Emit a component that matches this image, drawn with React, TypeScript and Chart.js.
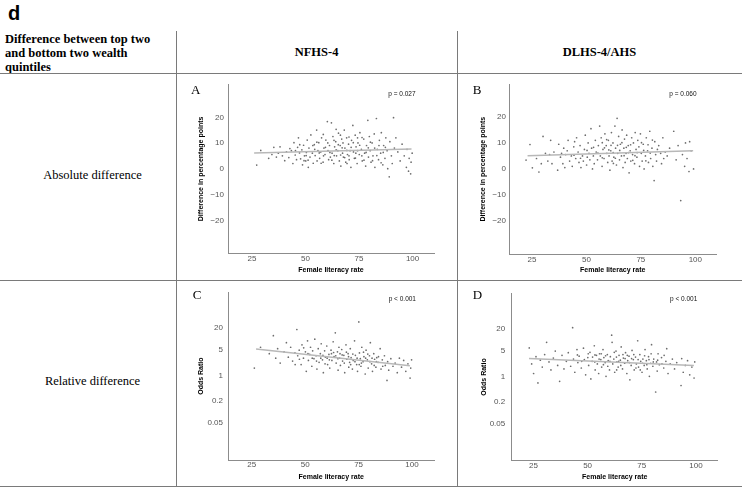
import React, { useEffect, useRef } from "react";
import { Chart, registerables } from "chart.js";
Chart.register(...registerables);

const SANS = "'Liberation Sans', Arial, sans-serif";
const SERIF = "'Liberation Serif', 'Times New Roman', serif";

const xTicks = [25, 50, 75, 100];
const diffTicks = [-20, -10, 0, 10, 20];
const oddsTicks = [0.05, 0.2, 1, 5, 20];

const xTitle = "Female literacy rate";
const diffTitle = "Difference in percentage points";
const oddsTitle = "Odds Ratio";
const panelLetters = ["A", "B", "C", "D"];
const pLabels = ["p = 0.027", "p = 0.060", "p < 0.001", "p < 0.001"];

// Panel A: NFHS-4, absolute difference (female literacy rate, difference in pp)
const pointsA: [number, number][] = [
  [27.2,1.5],[29.1,7.2],[32.8,4.1],[34.3,5.6],[35.2,8.4],[36.4,4.6],[37.3,6.1],[38.1,8.6],[39.2,5.1],[40.3,3.2],[41.1,6.6],[42.2,4.4],[42.7,7.9],
  [43.4,7.1],[44.1,2.1],[44.6,10.2],[45.2,5.4],[45.8,3.6],[46.3,8.4],[46.7,12.1],[47.2,6.2],[47.7,3.9],[48.3,7.4],[48.6,1.6],[49.1,9.2],[49.5,5.1],[50.1,3.1],[50.4,6.4],[50.8,11.2],[51.3,0.6],[51.6,8.1],
  [52.1,4.6],[52.5,13.2],[53.2,6.1],[53.6,2.2],[54.1,9.4],[54.5,5.2],[55.2,15.1],[55.4,3.1],[55.8,7.1],[56.2,10.2],[56.6,4.1],[57.1,6.6],[57.5,12.1],[58.2,2.6],[58.6,8.1],[59.1,5.6],[59.5,11.2],[60.2,18.4],[60.5,7.1],[60.8,3.6],[61.2,9.1],[61.6,4.6],
  [62.1,17.9],[62.4,6.1],[62.8,12.6],[63.2,2.1],[63.6,8.6],[64.1,10.6],[64.5,5.1],[65.1,7.1],[65.4,13.9],[65.8,3.1],[66.2,9.1],[66.5,1.1],[66.9,11.6],[67.3,6.1],[67.7,4.6],[68.1,15.1],[68.4,8.1],[68.8,2.6],[69.2,12.1],[69.6,5.6],[70.1,9.6],[70.4,3.6],[70.8,7.1],
  [71.2,0.6],[71.5,11.1],[72.1,16.9],[72.4,6.6],[72.8,4.1],[73.2,13.1],[73.6,8.6],[74.1,2.1],[74.5,10.1],[75.1,5.6],[75.4,14.1],[76.1,7.6],[76.5,3.1],[77.2,11.6],[77.6,6.1],[78.1,1.1],[78.5,9.1],[79.1,18.9],[79.4,4.6],[79.8,12.6],[80.2,7.1],[80.6,2.6],
  [81.1,10.1],[81.5,5.1],[82.1,13.6],[82.4,0.6],[83.1,19.6],[83.5,7.6],[84.1,3.6],[84.5,11.1],[85.1,6.1],[85.4,14.1],[86.1,1.6],[86.5,9.1],[87.1,4.1],[87.5,12.1],[88.1,7.1],[88.4,0.1],[89.1,-3.1],[89.4,10.6],[90.1,5.1],[90.5,2.1],
  [91.1,19.9],[91.5,8.1],[92.2,12.1],[93.1,6.6],[94.2,3.1],[95.1,9.6],[96.1,5.1],[97.1,0.6],[97.4,7.6],[98.1,-0.9],[98.4,4.1],[99.1,-1.9],[99.3,2.6],[99.8,6.1],
  [50.3,5.2],[51.2,3.4],[53.4,9.1],[54.3,7.6],[56.4,6.2],[57.3,2.2],[58.4,5.1],[59.3,8.4],[60.4,10.1],[61.4,6.4],[62.3,3.4],[63.4,5.2],[64.3,7.4],[65.3,9.4],[66.4,5.4],[67.1,8.2],[67.5,10.1],[68.3,4.4],[69.3,7.2],[69.4,2.1],
  [70.3,5.1],[71.3,8.4],[72.3,10.2],[73.3,4.2],[73.5,6.1],[74.3,7.1],[75.3,9.2],[76.3,5.1],[76.4,12.2],[77.3,3.4],[78.3,6.4],[79.3,8.2],[80.3,10.4],[81.3,3.2],[82.3,8.1],[83.3,5.2],[84.3,9.1],[85.3,2.4],[86.3,6.4],[87.3,8.4],
  [47.3,9.4],[49.3,3.2],[45.3,7.1],[63.3,11.1],[66.3,13.1],[70.3,12.4],[74.3,12.1],[58.3,13.4],[55.3,10.4],[64.3,15.4],
];
const fitA: [number, number][] = [[26, 6.2], [99.5, 7.7]];

// Panel B: DLHS-4/AHS, absolute difference
const pointsB: [number, number][] = [
  [22.3,3.5],[24.1,9.5],[25.2,0.5],[27.1,4.1],[28.2,-1.1],[29.3,2.1],[30.1,12.6],[31.2,6.1],[32.3,3.1],[33.1,5.6],[33.6,11.1],[34.2,2.1],[35.1,6.6],
  [36.8,-0.4],[37.3,9.6],[38.1,4.6],[38.6,6.1],[39.2,2.1],[39.6,8.1],[40.1,0.6],[40.5,5.6],[41.2,7.1],[41.6,11.1],[42.3,3.1],[43.1,5.1],[43.5,1.1],[44.2,8.6],[44.6,10.6],[45.1,4.1],[45.5,12.1],
  [46.2,6.6],[46.6,2.6],[47.1,9.1],[47.5,0.6],[48.2,5.1],[48.6,3.1],[49.1,7.6],[49.5,13.1],[50.1,1.6],[50.4,4.6],[50.8,10.1],[51.2,6.1],[51.6,3.6],[52.1,15.6],[52.4,8.1],[52.8,0.1],[53.2,5.1],[53.6,2.1],[54.1,11.1],[54.5,6.6],[55.1,3.6],[55.5,9.1],
  [56.1,16.6],[56.4,5.1],[56.8,12.1],[57.2,1.1],[57.6,7.6],[58.1,4.1],[58.5,13.6],[59.1,9.1],[59.4,6.1],[59.8,2.6],[60.1,11.1],[60.4,5.1],[60.8,-0.4],[61.2,7.1],[61.5,14.1],[61.8,3.1],[62.2,10.1],[62.6,4.6],[63.1,16.6],[63.4,8.1],[63.8,1.6],[64.1,19.6],[64.4,6.1],[64.8,12.6],[65.2,3.6],[65.6,9.6],
  [66.1,5.1],[66.4,15.1],[66.8,0.6],[67.2,8.1],[67.5,11.6],[67.8,2.6],[68.2,6.1],[68.5,13.1],[68.8,4.1],[69.2,9.1],[69.6,-1.4],[70.1,7.1],[70.4,3.1],[70.8,12.1],[71.2,5.6],[71.6,10.1],[72.1,2.1],[72.4,14.1],[72.8,7.6],[73.2,4.6],[73.6,11.1],[74.1,8.6],[74.4,1.1],[74.8,13.6],[75.2,6.1],[75.6,3.1],
  [76.1,9.6],[76.5,0.1],[77.1,5.1],[77.5,12.1],[78.1,7.1],[78.5,2.6],[79.1,14.6],[79.5,4.1],[80.1,8.1],[80.5,1.1],[81.1,-4.4],[81.4,10.6],[81.8,5.6],[82.2,3.1],[82.6,7.6],[83.2,9.1],[84.1,6.1],[84.5,2.1],[85.1,12.1],[85.5,4.1],
  [86.2,6.6],[87.1,5.1],[88.2,8.1],[90.1,14.6],[91.2,3.6],[92.1,9.1],[93.3,-12.1],[94.1,5.6],[95.1,1.1],[95.5,10.1],[96.2,4.1],[97.1,-0.9],[97.4,10.6],[98.1,7.1],[99.2,0.1],
  [55.3,6.2],[57.3,4.4],[58.3,8.2],[60.3,7.4],[62.3,6.4],[63.3,4.2],[65.3,7.2],[66.3,10.2],[67.3,5.2],[69.3,6.4],[70.3,9.4],[71.3,3.4],[73.3,6.4],[75.3,10.2],[76.3,7.2],[77.3,3.2],[78.3,9.4],[79.3,6.2],[80.3,11.2],[62.4,2.2],
  [64.3,9.2],[68.3,8.4],[72.3,5.2],[53.3,8.4],[50.3,7.2],[47.3,4.2],[44.3,5.4],[59.3,11.4],[61.3,9.2],[57.3,10.2],
];
const fitB: [number, number][] = [[23, 5.2], [99, 7.1]];

// Panel C: NFHS-4, relative difference (odds ratio)
const pointsC: [number, number][] = [
  [26.2,1.6],[29.1,6],[33.2,4],[35.1,12.5],[36.2,3],[37.1,5.5],[38.3,2.2],[40.1,4.5],[41.2,8],[42.1,3.2],[43.2,6],[44.1,2.5],[45.2,4.2],[46.1,18.5],[46.5,3.5],[47.2,5],[48.1,2],[48.5,7],[49.2,3],[50.1,4.5],[50.5,1.3],
  [51.1,9],[51.5,2.6],[52.1,3.8],[52.5,6],[53.1,1.8],[53.5,4.8],[54.1,2.9],[54.5,10],[55.1,3.5],[55.5,1.5],[56.1,5.5],[56.5,2.3],[57.1,4],[57.5,7.5],[58.1,2.7],[58.5,1.2],[59.1,4.8],[59.5,3.2],[60.1,6.5],[60.5,2],
  [61.1,3.8],[61.5,1.6],[62.1,5],[62.5,2.6],[63.1,8.5],[63.5,3.3],[64.1,15],[64.5,2.2],[65.1,4.5],[65.4,1.4],[65.8,6],[66.1,3],[66.5,1.9],[67.1,5.2],[67.5,2.5],[68.1,3.6],[68.5,1.2],[69.1,7],[69.5,2.8],[70.1,4],[70.4,1.7],[70.8,2.3],
  [71.1,5.5],[71.5,3.1],[72.1,1.5],[72.5,2.6],[73.1,9],[73.5,3.6],[74.1,2],[74.5,1.3],[75.1,30],[75.4,4.2],[75.8,2.9],[76.1,1.8],[76.5,6],[77.1,2.4],[77.5,3.3],[78.1,1.1],[78.5,5],[79.1,2.7],[79.5,1.6],[80.1,3.5],[80.5,8],
  [81.1,2.1],[81.5,1.3],[82.1,4],[82.5,2.8],[83.1,1.7],[83.5,3.1],[84.1,2.3],[85.1,5.5],[85.5,1.5],[86.1,2.7],[87.1,3.5],[87.5,1.9],[88.3,0.73],[88.6,2.4],[89.1,1.4],[90.1,2.9],[91.1,1.8],[92.1,2.2],[93.1,1.2],[94.1,3],
  [95.1,1.7],[96.1,2.6],[97.1,1.3],[98.1,2.1],[99.1,0.85],[99.4,1.6],[99.8,2.7],
  [45.3,2],[47.3,2.8],[49.3,5.8],[51.3,4],[53.3,3],[55.3,2.5],[57.3,3],[59.3,2.1],[61.3,2.7],[63.3,4.3],[64.3,3.5],[66.3,4],[67.3,3.7],[68.3,2.2],[69.3,4.4],[71.3,2],[72.3,3.9],[73.3,2.4],[74.3,3],[76.3,2.2],
  [77.3,4.4],[78.3,3],[79.3,3.9],[80.3,2.4],[81.3,3],[82.3,1.9],[83.3,2.4],[84.3,3.3],[86.3,1.8],[58.3,3.6],[60.3,3],[62.3,4],[65.3,2.9],[70.3,3.3],[75.3,2],
];
const fitC: [number, number][] = [[27, 5.4], [99, 1.86]];

// Panel D: DLHS-4/AHS, relative difference (odds ratio)
const pointsD: [number, number][] = [
  [23.1,6.1],[24.2,2.2],[25.1,1.2],[26.2,3.5],[27.1,0.66],[28.2,2.8],[29.1,1.8],[30.2,4],[31.1,8.7],[32.2,2.5],[33.1,1.5],[34.2,3.2],[35.1,5],[36.2,2],[37.1,0.73],[38.2,3.8],[39.1,1.6],[40.2,2.6],[41.1,4.5],[42.2,1.9],
  [43.1,22],[43.5,3],[44.1,1.3],[45.1,5.5],[45.5,2.4],[46.1,3.6],[47.1,1.7],[48.1,6],[48.5,2.9],[49.1,1.1],[50.1,3.3],[50.5,2],[51.1,4.6],[51.5,0.85],[52.1,2.6],[53.1,7],[53.5,1.5],[54.1,3.8],[54.5,2.2],[55.1,1.2],[55.5,4.2],
  [56.1,2.9],[56.5,1.8],[57.1,5.5],[57.5,3.3],[58.1,2.4],[58.5,1],[59.1,4],[59.5,2.7],[60.1,1.5],[60.5,3.5],[61.1,13.7],[61.3,8.7],[61.6,2.2],[62.1,3],[62.5,1.3],[63.1,5],[63.5,2.5],[64.1,1.8],[64.5,3.8],[65.1,2.8],[65.5,6.5],
  [66.1,1.6],[66.5,3.2],[67.1,2.3],[67.5,4.5],[68.1,1.2],[68.5,2.7],[69.1,3.6],[69.5,0.8],[70.1,2],[70.5,5.2],[71.1,2.9],[71.5,1.5],[72.1,3.4],[72.5,2.2],[73.1,9.6],[73.5,1.8],[74.1,4],[74.5,2.6],[75.1,1.3],[75.5,3],
  [76.1,2],[76.5,5.5],[77.1,2.7],[77.5,1.6],[78.1,3.5],[78.5,1],[79.1,2.3],[79.5,7.5],[80.1,1.9],[80.5,3],[81.4,0.37],[81.8,2.5],[82.1,1.4],[82.5,4.2],[83.1,2.1],[84.1,3.3],[85.1,1.7],[86.1,2.6],[86.5,5.8],[87.1,1.2],
  [88.1,2.2],[89.1,3],[90.1,1.6],[91.1,2.4],[93.1,0.56],[93.4,3.1],[94.1,1.3],[95.1,2],[96.1,2.7],[97.1,1.1],[98.1,1.8],[99.1,0.9],[99.4,2.5],
  [45.3,3.9],[47.3,2.6],[50.3,4.2],[52.3,3.4],[53.3,2.5],[55.3,3],[56.3,4.2],[57.3,2.1],[58.3,3.7],[59.3,1.9],[60.3,2.6],[62.3,4.6],[63.3,3.4],[64.3,2.6],[65.3,2],[66.3,4],[67.3,3.1],[68.3,3.8],[69.3,2.4],[70.3,3.1],
  [71.3,4],[72.3,1.7],[73.3,2.9],[74.3,1.5],[75.3,2.3],[76.3,3.7],[77.3,2.1],[78.3,2.9],[79.3,4.2],[80.3,2.5],[82.3,2.8],[84.3,2.2],[85.3,3.8],[53.4,3.9],[63.4,1.5],
];
const fitD: [number, number][] = [[23, 3.1], [99, 2.0]];

type PanelCfg = {
  idx: number;
  points: [number, number][];
  fit: [number, number][];
  log: boolean;
  left: number; top: number; w: number; h: number;
  yWidth: number; xHeight: number; padRight: number; padTop: number;
  xMin: number; xMax: number; yMin: number; yMax: number;
  yTickPad: number; xTickPad: number; yTitlePad: number; xTitlePad: number;
  letterX: number; letterY: number; pX: number; pY: number;
};

const panels: PanelCfg[] = [
  { idx: 0, points: pointsA, fit: fitA, log: false, left: 177, top: 76, w: 279, h: 204,
    yWidth: 51, xHeight: 27, padRight: 22, padTop: 5, xMin: 13.8, xMax: 110, yMin: -32.7, yMax: 32.7,
    yTickPad: 4, xTickPad: 1, yTitlePad: 19.8, xTitlePad: 5.3, letterX: 14, letterY: 18.3, pX: 211.3, pY: 18.5 },
  { idx: 1, points: pointsB, fit: fitB, log: false, left: 458, top: 76, w: 284, h: 204,
    yWidth: 51.5, xHeight: 26, padRight: 26, padTop: 5, xMin: 14.7, xMax: 109.5, yMin: -32.7, yMax: 32.7,
    yTickPad: 3.5, xTickPad: 0.5, yTitlePad: 20.5, xTitlePad: 5.3, letterX: 14.7, letterY: 18.3, pX: 211.3, pY: 18.5 },
  { idx: 2, points: pointsC, fit: fitC, log: true, left: 177, top: 282, w: 279, h: 204,
    yWidth: 51.5, xHeight: 26, padRight: 22, padTop: 6, xMin: 14.1, xMax: 110.3, yMin: 0.0047, yMax: 196,
    yTickPad: 5.5, xTickPad: 0, yTitlePad: 19.8, xTitlePad: 4.3, letterX: 15.7, letterY: 17.3, pX: 211.7, pY: 17 },
  { idx: 3, points: pointsD, fit: fitD, log: true, left: 458, top: 282, w: 284, h: 204,
    yWidth: 53.7, xHeight: 25.3, padRight: 24.3, padTop: 6, xMin: 15, xMax: 110, yMin: 0.0047, yMax: 196,
    yTickPad: 6.5, xTickPad: 0.5, yTitlePad: 22.1, xTitlePad: 4.3, letterX: 14.7, letterY: 17.3, pX: 212, pY: 17 },
];

function fmtTick(v: number): string {
  if (v < 0) return "\u2212" + Math.abs(v);
  return String(v);
}

function Panel({ cfg }: { cfg: PanelCfg }) {
  const ref = useRef<HTMLCanvasElement>(null);
  useEffect(() => {
    const canvas = ref.current!;
    const annot = {
      id: "annot" + cfg.idx,
      afterDraw(chart: any) {
        const ctx = chart.ctx;
        ctx.save();
        ctx.fillStyle = "#000";
        ctx.font = `13px ${SERIF}`;
        ctx.textAlign = "left";
        ctx.textBaseline = "alphabetic";
        ctx.fillText(panelLetters[cfg.idx], cfg.letterX, cfg.letterY);
        ctx.font = `6.5px ${SANS}`;
        ctx.textBaseline = "middle";
        ctx.fillStyle = "#111";
        ctx.fillText(pLabels[cfg.idx], cfg.pX, cfg.pY);
        ctx.restore();
      },
    };
    const chart = new Chart(canvas, {
      type: "scatter",
      data: {
        datasets: [
          {
            data: cfg.fit.map(([x, y]) => ({ x, y })),
            showLine: true,
            borderColor: "#b8b8b8",
            borderWidth: 1.5,
            pointRadius: 0,
            fill: false,
          },
          {
            data: cfg.points.map(([x, y]) => ({ x, y })),
            pointRadius: 0.85,
            backgroundColor: "rgba(60,60,60,0.75)",
            borderWidth: 0,
          },
        ],
      } as any,
      options: {
        responsive: false,
        animation: false,
        events: [],
        layout: { padding: { left: 0, right: cfg.padRight, top: cfg.padTop, bottom: 0 } },
        plugins: { legend: { display: false }, tooltip: { enabled: false } },
        scales: {
          x: {
            type: "linear",
            min: cfg.xMin,
            max: cfg.xMax,
            grid: { display: false, drawTicks: false, tickLength: 0 },
            border: { display: true, color: "#8c8c8c", width: 1 },
            ticks: {
              font: { family: SANS, size: 8 },
              color: "#555",
              padding: cfg.xTickPad,
              maxRotation: 0,
              callback: (v: any) => fmtTick(Number(v)),
            },
            afterBuildTicks: (s: any) => {
              s.ticks = xTicks.map((v) => ({ value: v }));
            },
            afterFit: (s: any) => {
              s.height = cfg.xHeight;
            },
            title: {
              display: true,
              text: xTitle,
              color: "#000",
              font: { family: SANS, size: 7, weight: "bold" },
              padding: { top: 0, bottom: cfg.xTitlePad },
            },
          },
          y: {
            type: cfg.log ? "logarithmic" : "linear",
            min: cfg.yMin,
            max: cfg.yMax,
            grid: { display: false, drawTicks: false, tickLength: 0 },
            border: { display: true, color: "#8c8c8c", width: 1 },
            ticks: {
              font: { family: SANS, size: 8 },
              color: "#555",
              padding: cfg.yTickPad,
              callback: (v: any) => fmtTick(Number(v)),
            },
            afterBuildTicks: (s: any) => {
              s.ticks = (cfg.log ? oddsTicks : diffTicks).map((v) => ({ value: v }));
            },
            afterFit: (s: any) => {
              s.width = cfg.yWidth;
            },
            title: {
              display: true,
              text: cfg.log ? oddsTitle : diffTitle,
              color: "#000",
              font: { family: SANS, size: 7, weight: "bold" },
              padding: { top: cfg.yTitlePad, bottom: 0 },
            },
          },
        },
      } as any,
      plugins: [annot],
    });
    return () => chart.destroy();
  }, [cfg]);
  return (
    <canvas
      ref={ref}
      width={cfg.w}
      height={cfg.h}
      style={{ position: "absolute", left: cfg.left, top: cfg.top, width: cfg.w, height: cfg.h }}
    />
  );
}

const lineColor = "#7a7a7a";

export default function App() {
  const serifText: React.CSSProperties = {
    position: "absolute",
    fontFamily: SERIF,
    fontSize: 12.5,
    lineHeight: "14px",
    color: "#000",
    whiteSpace: "nowrap",
  };
  return (
    <div style={{ position: "fixed", left: 0, top: 0, width: 742, height: 487, background: "#fff", overflow: "hidden" }}>
      <div style={{ position: "absolute", left: 8, top: 3, fontFamily: SANS, fontWeight: "bold", fontSize: 20, lineHeight: "20px", color: "#000" }}>d</div>
      <div style={{ ...serifText, left: 5, top: 31.5, fontWeight: "bold" }}>
        Difference between top two<br />and bottom two wealth<br />quintiles
      </div>
      <div style={{ ...serifText, left: 176, width: 281, top: 44.8, textAlign: "center", fontWeight: "bold" }}>NFHS-4</div>
      <div style={{ ...serifText, left: 457, width: 285, top: 44.8, textAlign: "center", fontWeight: "bold" }}>DLHS-4/AHS</div>
      <div style={{ ...serifText, left: 0, width: 185, top: 167.8, textAlign: "center" }}>Absolute difference</div>
      <div style={{ ...serifText, left: 0, width: 185, top: 373.8, textAlign: "center" }}>Relative difference</div>

      <div style={{ position: "absolute", left: 0, top: 73, width: 742, height: 1, background: lineColor }} />
      <div style={{ position: "absolute", left: 0, top: 280, width: 742, height: 1, background: lineColor }} />
      <div style={{ position: "absolute", left: 0, top: 486, width: 742, height: 1, background: lineColor }} />
      <div style={{ position: "absolute", left: 176, top: 31, width: 1, height: 456, background: lineColor }} />
      <div style={{ position: "absolute", left: 457, top: 31, width: 1, height: 456, background: lineColor }} />

      {panels.map((p) => (
        <Panel key={p.idx} cfg={p} />
      ))}
    </div>
  );
}
